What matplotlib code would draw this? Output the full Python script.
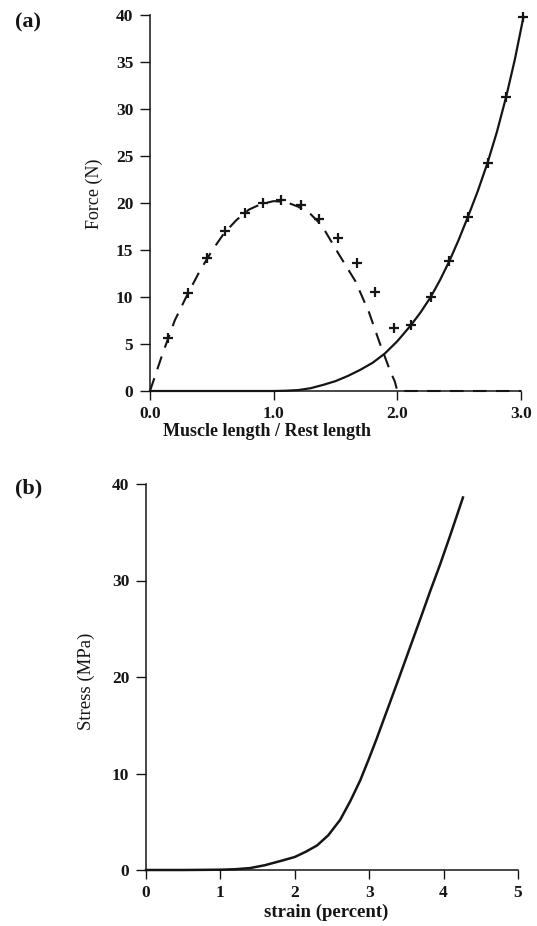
import matplotlib
matplotlib.use("Agg")
import matplotlib.pyplot as plt

# ---------------- data ----------------
# Panel (a): active (dashed) and passive (solid) force vs. muscle length
active_curve_x = [0.0, 0.1, 0.2, 0.3, 0.4, 0.5, 0.6, 0.7, 0.8, 0.9, 1.0, 1.1, 1.2,
                  1.3, 1.39, 1.52, 1.66, 1.77, 1.855, 1.94, 1.98, 2.0, 3.0]
active_curve_y = [0.0, 3.9, 7.5, 10.2, 12.7, 14.9, 16.8, 18.2, 19.3, 19.9, 20.2, 20.1, 19.6,
                  18.8, 17.6, 14.7, 11.7, 8.4, 5.2, 2.2, 1.0, 0.0, 0.0]
active_pts_x = [0.145, 0.31, 0.46, 0.61, 0.77, 0.91, 1.06, 1.22, 1.37, 1.52, 1.67, 1.82, 1.97]
active_pts_y = [5.6, 10.4, 14.1, 17.0, 18.9, 20.0, 20.3, 19.8, 18.3, 16.3, 13.6, 10.5, 6.7]

passive_curve_x = [0.0, 0.5, 1.0, 1.1, 1.2, 1.3, 1.4, 1.5, 1.6, 1.7, 1.8, 1.9, 2.0,
                   2.11, 2.19, 2.27, 2.345, 2.42, 2.495, 2.57, 2.65, 2.73, 2.805,
                   2.88, 2.95, 3.02]
passive_curve_y = [0.0, 0.0, 0.0, 0.03, 0.1, 0.3, 0.65, 1.05, 1.6, 2.25, 3.0, 4.0, 5.3,
                   7.0, 8.4, 10.0, 11.8, 13.8, 16.05, 18.5, 21.25, 24.3, 27.55,
                   31.3, 35.25, 39.8]
passive_pts_x = [2.11, 2.27, 2.42, 2.57, 2.73, 2.88, 3.02]
passive_pts_y = [7.0, 10.0, 13.8, 18.5, 24.3, 31.3, 39.8]

a_xticks = [0.0, 1.0, 2.0, 3.0]
a_xticklabels = ["0.0", "1.0", "2.0", "3.0"]
a_yticks = [0, 5, 10, 15, 20, 25, 30, 35, 40]

# Panel (b): stress-strain curve
strain = [0.0, 0.5, 1.0, 1.2, 1.40, 1.6, 1.84, 2.0, 2.15, 2.30, 2.45, 2.61, 2.75, 2.88,
          3.0, 3.1, 3.2, 3.3, 3.4, 3.55, 3.7, 3.82, 3.95, 4.09, 4.26]
stress = [0.0, 0.0, 0.03, 0.08, 0.2, 0.5, 1.0, 1.35, 1.9, 2.55, 3.6, 5.2, 7.2, 9.3,
          11.6, 13.6, 15.7, 17.8, 19.9, 23.1, 26.3, 28.9, 31.6, 34.7, 38.6]

b_xticks = [0, 1, 2, 3, 4, 5]
b_yticks = [0, 10, 20, 30, 40]

# ---------------- style ----------------
INK = "#151515"
SERIF = ["Liberation Serif", "DejaVu Serif"]
plt.rcParams["font.family"] = SERIF
plt.rcParams["axes.linewidth"] = 1.0

W, H = 537, 926
fig = plt.figure(figsize=(W / 100, H / 100), dpi=100)

TICK_FS = 12.5


def px_axes(x0, x1, y_top, y_bot):
    return fig.add_axes([x0 / W, 1 - y_bot / H, (x1 - x0) / W, (y_bot - y_top) / H])


def style(ax):
    for s in ("top", "right"):
        ax.spines[s].set_visible(False)
    for s in ("left", "bottom"):
        ax.spines[s].set_color(INK)
        ax.spines[s].set_linewidth(1.1)
    ax.tick_params(axis="y", direction="out", length=7.5, width=1.0, pad=4.5,
                   colors=INK, labelsize=TICK_FS)
    ax.tick_params(axis="x", direction="out", length=6.5, width=1.0, pad=4.5,
                   colors=INK, labelsize=TICK_FS)
    for lab in ax.get_xticklabels() + ax.get_yticklabels():
        lab.set_fontweight("bold")


# ----- panel (a) -----
axa = px_axes(150, 521, 15, 391)
axa.plot(active_curve_x, active_curve_y, color=INK, lw=1.5, ls=(0, (6.5, 4.5)),
         clip_on=False)
axa.plot(passive_curve_x, passive_curve_y, color=INK, lw=1.6, clip_on=False)
axa.plot(active_pts_x, active_pts_y, ls="none", marker="+", ms=7, mew=1.6,
         color=INK, clip_on=False)
axa.plot(passive_pts_x, passive_pts_y, ls="none", marker="+", ms=7, mew=1.6,
         color=INK, clip_on=False)
axa.set_xlim(0, 3.0)
axa.set_ylim(0, 40)
axa.set_xticks(a_xticks)
axa.set_xticklabels(a_xticklabels)
axa.set_yticks(a_yticks)
style(axa)
axa.set_xlabel("Muscle length / Rest length", fontsize=13, fontweight="bold",
               color=INK)
axa.xaxis.set_label_coords(0.315, -0.084)
axa.set_ylabel("Force (N)", fontsize=13, color=INK, va="center")
axa.yaxis.set_label_coords(-0.151, 0.524)
fig.text(15 / W, 1 - 22 / H, "(a)", fontsize=16, fontweight="bold", color=INK,
         ha="left", va="center")

# ----- panel (b) -----
axb = px_axes(146, 518, 484, 870)
axb.plot(strain, stress, color=INK, lw=1.8, clip_on=False)
axb.set_xlim(0, 5)
axb.set_ylim(0, 40)
axb.set_xticks(b_xticks)
axb.set_yticks(b_yticks)
style(axb)
axb.set_xlabel("strain (percent)", fontsize=13.5, fontweight="bold", color=INK)
axb.xaxis.set_label_coords(0.484, -0.086)
axb.set_ylabel("Stress (MPa)", fontsize=13.5, color=INK, va="center")
axb.yaxis.set_label_coords(-0.161, 0.49)
fig.text(15 / W, 1 - 488 / H, "(b)", fontsize=16, fontweight="bold", color=INK,
         ha="left", va="center")

fig.savefig("out.png", dpi=100)
